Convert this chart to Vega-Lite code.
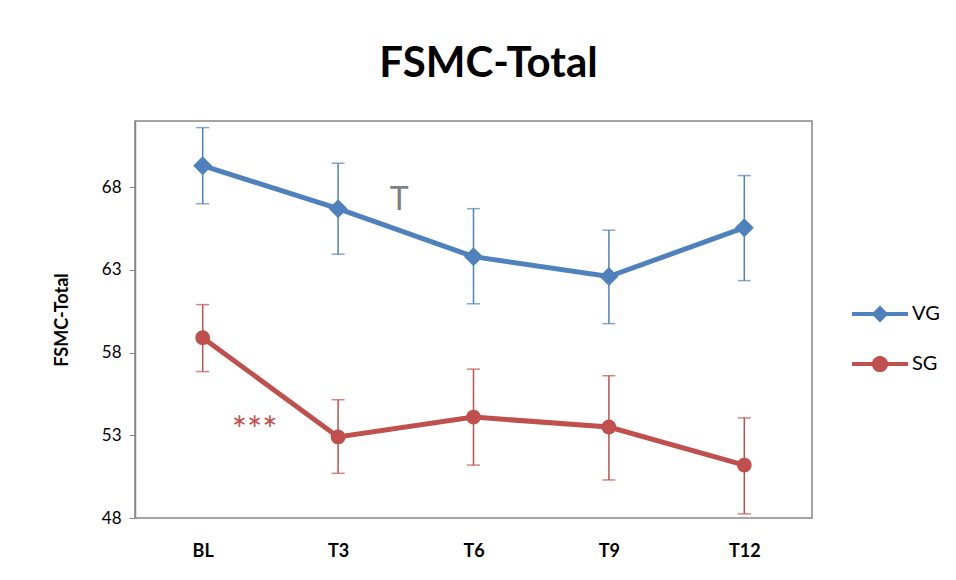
{
  "$schema": "https://vega.github.io/schema/vega-lite/v6.json",
  "width": 677,
  "height": 397,
  "autosize": {"type": "none"},
  "padding": {"left": 135, "top": 121, "right": 144, "bottom": 62},
  "background": "white",
  "config": {
    "font": "Lato",
    "view": {"stroke": "#868686", "strokeWidth": 1.5}
  },
  "title": {
    "text": "FSMC-Total",
    "fontSize": 42,
    "fontWeight": "bold",
    "font": "Lato",
    "color": "black",
    "anchor": "middle",
    "offset": 35,
    "dx": 15
  },
  "datasets": {
    "main": [
      {"time": "BL", "group": "VG", "mean": 69.3, "lo": 67.0, "hi": 71.6},
      {"time": "T3", "group": "VG", "mean": 66.7, "lo": 63.95, "hi": 69.45},
      {"time": "T6", "group": "VG", "mean": 63.8, "lo": 60.95, "hi": 66.7},
      {"time": "T9", "group": "VG", "mean": 62.6, "lo": 59.75, "hi": 65.4},
      {"time": "T12", "group": "VG", "mean": 65.55, "lo": 62.35, "hi": 68.7},
      {"time": "BL", "group": "SG", "mean": 58.9, "lo": 56.85, "hi": 60.9},
      {"time": "T3", "group": "SG", "mean": 52.9, "lo": 50.7, "hi": 55.15},
      {"time": "T6", "group": "SG", "mean": 54.1, "lo": 51.2, "hi": 57.0},
      {"time": "T9", "group": "SG", "mean": 53.5, "lo": 50.3, "hi": 56.6},
      {"time": "T12", "group": "SG", "mean": 51.2, "lo": 48.25, "hi": 54.05}
    ],
    "notes": [
      {"time": "T3", "y": 67.2, "label": "T", "kind": "VG"},
      {"time": "BL", "y": 53.2, "label": "***", "kind": "SG"}
    ]
  },
  "encoding": {
    "x": {
      "field": "time",
      "type": "ordinal",
      "sort": ["BL", "T3", "T6", "T9", "T12"],
      "scale": {"type": "point", "padding": 0.5},
      "axis": {
        "title": null,
        "labelAngle": 0,
        "labelFontSize": 18,
        "labelFontWeight": "bold",
        "labelColor": "black",
        "labelPadding": 24,
        "ticks": false,
        "domain": false
      }
    }
  },
  "layer": [
    {
      "data": {"name": "main"},
      "mark": {"type": "rule", "strokeWidth": 1.5},
      "encoding": {
        "y": {
          "field": "lo",
          "type": "quantitative",
          "scale": {"domain": [48, 72], "nice": false, "zero": false},
          "axis": {
            "values": [48, 53, 58, 63, 68],
            "title": "FSMC-Total",
            "titleFontSize": 18,
            "titleFontWeight": "bold",
            "titleColor": "black",
            "titlePadding": 30,
            "labelFontSize": 17,
            "labelColor": "black",
            "labelPadding": 8,
            "tickSize": 6,
            "tickColor": "#868686",
            "domainColor": "#868686",
            "domainWidth": 1.5,
            "grid": false
          }
        },
        "y2": {"field": "hi"},
        "color": {
          "field": "group",
          "type": "nominal",
          "scale": {"domain": ["VG", "SG"], "range": ["#4F81BD", "#C0504D"]},
          "legend": {
            "title": null,
            "orient": "none",
            "legendX": 717,
            "legendY": 165,
            "padding": 0,
            "symbolType": "M-1,-0.07H1V0.07H-1Z",
            "symbolSize": 3136,
            "labelFontSize": 20,
            "labelColor": "black",
            "labelOffset": 4,
            "rowPadding": 12,
            "encode": {
              "symbols": {
                "update": {
                  "shape": {"signal": "datum.value === 'VG' ? 'M-1,-0.07H-0.23L0,-0.3L0.23,-0.07H1V0.07H0.23L0,0.3L-0.23,0.07H-1Z' : 'M-1,-0.07H-0.281A0.29,0.29 0 0 1 0.281,-0.07H1V0.07H0.281A0.29,0.29 0 0 1 -0.281,0.07H-1Z'"},
                  "size": {"value": 3136},
                  "fill": {"signal": "datum.value === 'VG' ? '#4F81BD' : '#C0504D'"},
                  "stroke": {"value": "transparent"},
                  "strokeWidth": {"value": 0},
                  "opacity": {"value": 1},
                  "fillOpacity": {"value": 1}
                }
              }
            }
          }
        }
      }
    },
    {
      "data": {"name": "main"},
      "mark": {"type": "tick", "size": 13, "thickness": 1.5},
      "encoding": {
        "y": {"field": "lo", "type": "quantitative"},
        "color": {"field": "group", "type": "nominal"}
      }
    },
    {
      "data": {"name": "main"},
      "mark": {"type": "tick", "size": 13, "thickness": 1.5},
      "encoding": {
        "y": {"field": "hi", "type": "quantitative"},
        "color": {"field": "group", "type": "nominal"}
      }
    },
    {
      "data": {"name": "main"},
      "mark": {"type": "line", "strokeWidth": 5},
      "encoding": {
        "y": {"field": "mean", "type": "quantitative"},
        "color": {"field": "group", "type": "nominal"}
      }
    },
    {
      "data": {"name": "main"},
      "transform": [{"filter": "datum.group === 'VG'"}],
      "mark": {"type": "point", "filled": true, "opacity": 1, "shape": "diamond", "size": 360},
      "encoding": {
        "y": {"field": "mean", "type": "quantitative"},
        "color": {"field": "group", "type": "nominal"}
      }
    },
    {
      "data": {"name": "main"},
      "transform": [{"filter": "datum.group === 'SG'"}],
      "mark": {"type": "point", "filled": true, "opacity": 1, "shape": "circle", "size": 220},
      "encoding": {
        "y": {"field": "mean", "type": "quantitative"},
        "color": {"field": "group", "type": "nominal"}
      }
    },
    {
      "data": {"name": "notes"},
      "transform": [{"filter": "datum.kind === 'VG'"}],
      "mark": {"type": "text", "fontSize": 32, "color": "#7F7F7F", "dx": 61, "baseline": "middle"},
      "encoding": {
        "y": {"field": "y", "type": "quantitative"},
        "text": {"field": "label"}
      }
    },
    {
      "data": {"name": "notes"},
      "transform": [{"filter": "datum.kind === 'SG'"}],
      "mark": {"type": "text", "fontSize": 36, "color": "#C0504D", "dx": 52, "baseline": "middle"},
      "encoding": {
        "y": {"field": "y", "type": "quantitative"},
        "text": {"field": "label"}
      }
    }
  ]
}
